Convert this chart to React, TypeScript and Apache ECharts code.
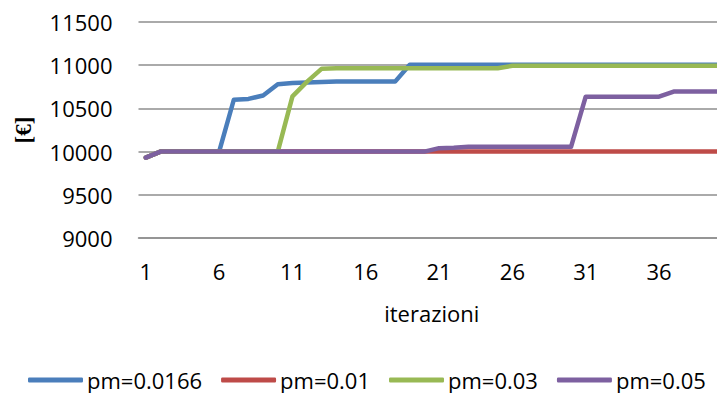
import React, { useEffect, useRef } from "react";
import * as echarts from "echarts";

const categories: string[] = Array.from({ length: 40 }, (_, i) => String(i + 1));

const seriesNames = ["pm=0.0166", "pm=0.01", "pm=0.03", "pm=0.05"];

const pm0166: number[] = [
  9930, 10000, 10000, 10000, 10000, 10000, 10600, 10610, 10650, 10780,
  10795, 10800, 10805, 10810, 10810, 10810, 10810, 10810, 11005, 11005,
  11005, 11005, 11005, 11005, 11005, 11005, 11005, 11005, 11005, 11005,
  11005, 11005, 11005, 11005, 11005, 11005, 11005, 11005, 11005, 11005,
];

const pm001: number[] = [
  9930, 10000, 10000, 10000, 10000, 10000, 10000, 10000, 10000, 10000,
  10000, 10000, 10000, 10000, 10000, 10000, 10000, 10000, 10000, 10000,
  10000, 10000, 10000, 10000, 10000, 10000, 10000, 10000, 10000, 10000,
  10000, 10000, 10000, 10000, 10000, 10000, 10000, 10000, 10000, 10000,
];

const pm003: number[] = [
  9930, 10000, 10000, 10000, 10000, 10000, 10000, 10000, 10000, 10000,
  10640, 10810, 10960, 10965, 10965, 10965, 10965, 10965, 10965, 10965,
  10965, 10965, 10965, 10965, 10965, 10993, 10993, 10993, 10993, 10993,
  10993, 10993, 10993, 10993, 10993, 10993, 10993, 10993, 10993, 10993,
];

const pm005: number[] = [
  9930, 10000, 10000, 10000, 10000, 10000, 10000, 10000, 10000, 10000,
  10000, 10000, 10000, 10000, 10000, 10000, 10000, 10000, 10000, 10000,
  10040, 10045, 10055, 10055, 10055, 10055, 10055, 10055, 10055, 10055,
  10635, 10635, 10635, 10635, 10635, 10635, 10695, 10695, 10695, 10695,
];

const seriesData = [pm0166, pm001, pm003, pm005];
const colors = ["#4A7EBB", "#BE4B48", "#98B954", "#7D60A0"];

const FONT = "Open Sans";

export default function App() {
  const ref = useRef<HTMLDivElement>(null);

  useEffect(() => {
    if (!ref.current) return;
    const chart = echarts.init(ref.current, undefined, { renderer: "svg" });
    chart.setOption({
      animation: false,
      backgroundColor: "#ffffff",
      color: colors,
      grid: { left: 138.5, top: 22, bottom: 163, width: 594, containLabel: false },
      legend: {
        data: seriesNames,
        left: 28,
        top: 369,
        padding: 0,
        itemGap: 19,
        itemWidth: 55,
        itemHeight: 5,
        icon: "roundRect",
        textStyle: { fontFamily: FONT, fontSize: 22, color: "#000", padding: [0, 0, 0, -1] },
      },
      xAxis: {
        type: "category",
        data: categories,
        boundaryGap: true,
        name: "iterazioni",
        nameLocation: "middle",
        nameGap: 64,
        nameTextStyle: { fontFamily: FONT, fontSize: 22, color: "#000" },
        axisLine: { show: true, lineStyle: { color: "#8e8e8e", width: 1.5 } },
        axisTick: { show: false },
        axisLabel: {
          interval: 4,
          margin: 22,
          fontFamily: FONT,
          fontSize: 22,
          color: "#000",
        },
      },
      yAxis: {
        type: "value",
        min: 9000,
        max: 11500,
        interval: 500,
        name: "[€]",
        nameLocation: "middle",
        nameRotate: 90,
        nameGap: 104,
        nameTextStyle: {
          fontFamily: "Liberation Serif",
          fontWeight: "bold",
          fontSize: 23,
          color: "#000",
        },
        axisLine: { show: false },
        axisTick: { show: false },
        splitLine: { show: true, lineStyle: { color: "#8e8e8e", width: 1.5 } },
        axisLabel: {
          margin: 26,
          fontFamily: FONT,
          fontSize: 22,
          color: "#000",
          formatter: (v: number) => String(v),
        },
      },
      series: seriesNames.map((name, i) => ({
        name,
        type: "line",
        data: seriesData[i],
        symbol: "none",
        showSymbol: false,
        lineStyle: { width: 4.5, color: colors[i], cap: "round", join: "round" },
        itemStyle: { color: colors[i] },
      })),
    });
    return () => chart.dispose();
  }, []);

  return <div ref={ref} style={{ width: 725, height: 401, margin: -8 }} />;
}
